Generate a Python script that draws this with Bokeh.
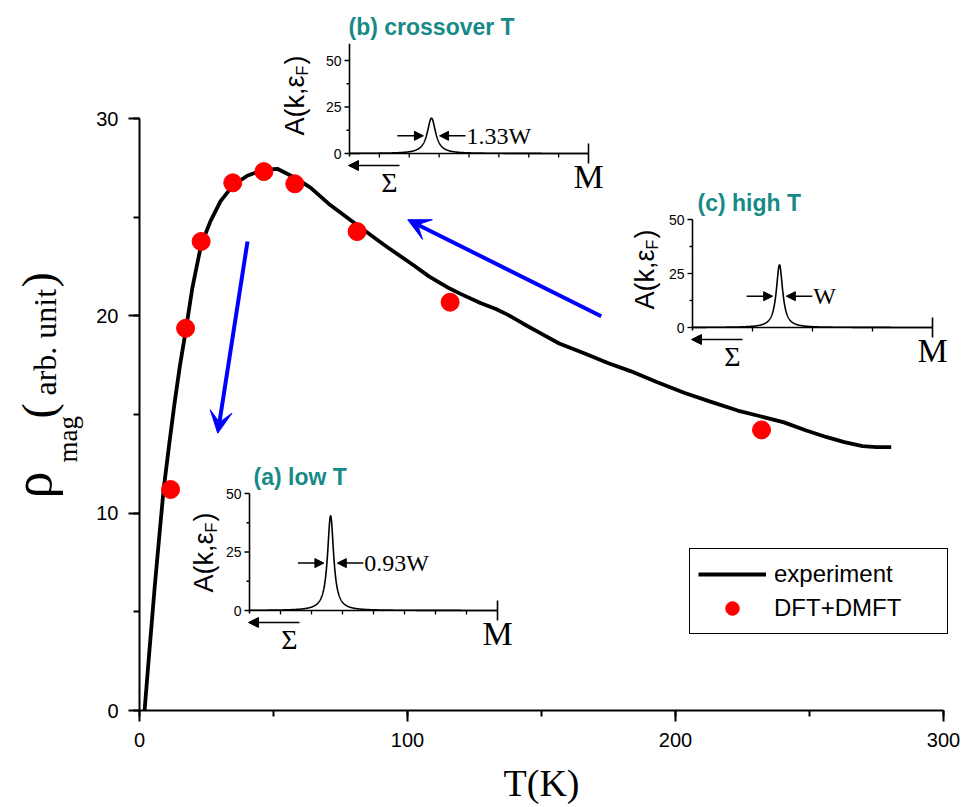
import math
import numpy as np
from bokeh.plotting import figure
from bokeh.models import (Range1d, SingleIntervalTicker, Label, Arrow, NormalHead,
                          VeeHead, Legend, LegendItem)
from bokeh.core.properties import value
from bokeh.embed import file_html
from bokeh.resources import INLINE

# ---------------------------------------------------------------- data
# measured magnetic resistivity
T_exp = [1.9, 3.5, 5.7, 7.5, 9.0, 11.0, 13.0, 15.0, 17.2, 19.7, 23.0, 26.5, 30.2,
         34.8, 40.2, 46.4, 51.4, 58.0, 63.8, 71.3, 81.2, 91.2, 102.4, 108.0, 114.8,
         120.0, 127.2, 133.0, 137.5, 143.2, 149.9, 156.6, 165.9, 175.0, 183.2, 193.0,
         203.2, 213.0, 223.2, 232.0, 240.5, 248.5, 256.5, 263.0, 269.8, 275.0, 280.5]
rho_exp = [0.0, 2.7, 6.3, 9.0, 11.2, 13.4, 15.5, 17.4, 19.2, 21.4, 23.6, 24.8, 25.8,
           26.6, 27.1, 27.4, 27.45, 27.0, 26.5, 25.6, 24.6, 23.6, 22.55, 22.0, 21.45,
           21.1, 20.65, 20.35, 20.05, 19.6, 19.1, 18.6, 18.1, 17.6, 17.2, 16.65,
           16.1, 15.65, 15.2, 14.9, 14.6, 14.2, 13.85, 13.6, 13.4, 13.35, 13.35]

# DFT+DMFT results
T_dmft = [11.6, 17.2, 23.0, 34.8, 46.4, 57.95, 81.2, 115.9, 232.1]
rho_dmft = [11.2, 19.37, 23.77, 26.74, 27.31, 26.69, 24.27, 20.69, 14.22]

# guide arrows (start T, start rho) -> (end T, end rho)
arrow_T_start = [40.3, 172.3]
arrow_rho_start = [23.77, 19.98]
arrow_T_end = [29.2, 100.1]
arrow_rho_end = [14.05, 24.87]

# spectral function A(k, eps_F) along Sigma -> M for the three insets
inset_titles = ["(a) low T", "(b) crossover T", "(c) high T"]
width_labels = ["0.93W", "1.33W", "W"]
width_factors = [0.93, 1.33, 1.0]
W = 0.032                      # reference peak width (fraction of the k path)
peak_k = [0.327, 0.343, 0.3625]
peak_A = [40.5, 19.0, 29.0]
A_ticks = [0, 25, 50]
A_minor = [12.5, 37.5]

# ---------------------------------------------------------------- layout
W_PX, H_PX = 965, 807
AXIS_X_PX, AXIS_Y_PX = 139, 710      # pixel position of T = 0 and rho = 0
PX_PER_K = 2.68
PX_PER_RHO = 19.7333

inset_layout = [
    dict(left=249, right=497, zero=610, px_per_A=2.34, top=50, n_div=8, title_dx=4, ylab_dx=-46),
    dict(left=349, right=588, zero=153, px_per_A=1.86, top=59, n_div=8, title_dx=-1, ylab_dx=-55),
    dict(left=692, right=932, zero=327, px_per_A=2.16, top=50, n_div=4, title_dx=5, ylab_dx=-48),
]
TEAL = "#178a87"
SANS = "Liberation Sans"
SERIF = "Liberation Serif"

# the frame fills the whole canvas; axes sit at T = 0 and rho = 0
p = figure(width=W_PX, height=H_PX,
           x_range=Range1d(-AXIS_X_PX / PX_PER_K, (W_PX - AXIS_X_PX) / PX_PER_K),
           y_range=Range1d(-(H_PX - AXIS_Y_PX) / PX_PER_RHO, AXIS_Y_PX / PX_PER_RHO),
           min_border=0, toolbar_location=None, output_backend="svg")
p.xgrid.visible = False
p.ygrid.visible = False
p.outline_line_color = None
p.background_fill_color = "white"
p.border_fill_color = "white"

p.xaxis.ticker = SingleIntervalTicker(interval=100, num_minor_ticks=2)
p.yaxis.ticker = SingleIntervalTicker(interval=10, num_minor_ticks=2)
p.xaxis.bounds = (0, 300)
p.yaxis.bounds = (0, 30)
p.xaxis.fixed_location = 0
p.yaxis.fixed_location = 0
for ax in (p.xaxis, p.yaxis):
    ax.axis_line_width = 2
    ax.major_tick_line_width = 2
    ax.minor_tick_line_width = 2
    ax.major_tick_in = 0
    ax.major_tick_out = 11
    ax.minor_tick_in = 0
    ax.minor_tick_out = 6
    ax.major_label_text_font = SANS
    ax.major_label_text_font_size = "20px"
    ax.major_label_text_color = "black"
p.xaxis.major_label_standoff = 11
p.yaxis.major_label_standoff = 10


def T_at(px):
    return (px - AXIS_X_PX) / PX_PER_K


def rho_at(py):
    return (AXIS_Y_PX - py) / PX_PER_RHO


# ---------------------------------------------------------------- main curves
r_exp = p.line(T_exp, rho_exp, line_color="black", line_width=3.8)
r_dmft = p.scatter(T_dmft, rho_dmft, size=18, fill_color="red", line_color="red")

for t0, r0, t1, r1 in zip(arrow_T_start, arrow_rho_start, arrow_T_end, arrow_rho_end):
    p.add_layout(Arrow(x_start=t0, y_start=r0, x_end=t1, y_end=r1,
                       line_color="blue", line_width=4,
                       end=VeeHead(size=22, fill_color="blue", line_color="blue")))

# axis titles
p.add_layout(Label(x=T_at(541), y=rho_at(782), text="T(K)", text_align="center",
                   text_baseline="middle", text_font=SERIF, text_font_size="38px",
                   text_color="black"))
ylabel_pieces = [("ρ", "54px", 32, 498), ("mag", "27px", 67, 462), ("(", "46px", 38, 418),
                 ("arb. unit", "32px", 44, 395), (")", "46px", 38, 287)]
for txt, size, cx, by in ylabel_pieces:
    p.add_layout(Label(x=T_at(cx), y=rho_at(by), text=txt, angle=math.pi / 2,
                       text_align="left", text_baseline="middle",
                       text_font=SERIF, text_font_size=size, text_color="black"))

# ---------------------------------------------------------------- insets
k_grid = np.linspace(0, 1, 1601)
for i, g in enumerate(inset_layout):
    xs = g["right"] - g["left"]
    ky = g["px_per_A"]
    xn, yn = f"kx{i}", f"ky{i}"
    p.extra_x_ranges[xn] = Range1d(-g["left"] / xs, 1 + (W_PX - g["right"]) / xs)
    p.extra_y_ranges[yn] = Range1d(-(H_PX - g["zero"]) / ky, g["zero"] / ky)
    kw = dict(x_range_name=xn, y_range_name=yn)

    def du(px):
        return px / xs

    def dA(px):
        return px / ky

    # spectral peak (Lorentzian with the labelled width)
    fw = width_factors[i] * W
    A = peak_A[i] / (1 + ((k_grid - peak_k[i]) / (0.5 * fw)) ** 2)
    p.line(k_grid, A, line_color="black", line_width=1.6, **kw)

    # axes
    p.segment(x0=[0, 0], y0=[0, -dA(3)], x1=[1, 0], y1=[0, g["top"]],
              line_color="black", line_width=1.6, **kw)
    p.segment(x0=[-du(5)] * len(A_ticks), y0=A_ticks, x1=[0] * len(A_ticks), y1=A_ticks,
              line_color="black", line_width=1.3, **kw)
    p.segment(x0=[-du(3)] * len(A_minor), y0=A_minor, x1=[0] * len(A_minor), y1=A_minor,
              line_color="black", line_width=1.3, **kw)
    xt = [j / g["n_div"] for j in range(1, g["n_div"])]
    p.segment(x0=xt, y0=[0] * len(xt), x1=xt, y1=[-dA(4)] * len(xt),
              line_color="black", line_width=1.3, **kw)
    p.segment(x0=[1], y0=[-dA(10)], x1=[1], y1=[dA(10)],
              line_color="black", line_width=1.6, **kw)
    p.text(x=[-du(8)] * len(A_ticks), y=A_ticks, text=[str(t) for t in A_ticks],
           text_align="right", text_baseline="middle", text_font=value(SANS),
           text_font_size="14px", text_color="black", **kw)

    # title
    p.text(x=[du(g["title_dx"])], y=[g["top"] + dA(17)], text=[inset_titles[i]],
           text_align="left", text_baseline="middle", text_font=value(SANS),
           text_font_style="bold", text_font_size="23px", text_color=TEAL, **kw)

    # rotated y label A(k, eps_F)
    base = du(g["ylab_dx"])
    p.text(x=[base], y=[dA(18)], text=["A(k,ε"], angle=math.pi / 2,
           text_align="left", text_baseline="middle", text_font=value(SANS),
           text_font_size="27px", text_color="black", **kw)
    p.text(x=[base + du(8)], y=[dA(18 + 60)], text=["F"], angle=math.pi / 2,
           text_align="left", text_baseline="middle", text_font=value(SANS),
           text_font_size="16px", text_color="black", **kw)
    p.text(x=[base], y=[dA(18 + 71)], text=[")"], angle=math.pi / 2,
           text_align="left", text_baseline="middle", text_font=value(SANS),
           text_font_size="27px", text_color="black", **kw)

    # width markers at half maximum
    yh = peak_A[i] / 2
    alen = du(26)
    tip_l = peak_k[i] - fw / 2 - du(3)
    tip_r = peak_k[i] + fw / 2 + du(3)
    for tail, tip in ((tip_l - alen, tip_l), (tip_r + alen, tip_r)):
        p.add_layout(Arrow(x_start=tail, y_start=yh, x_end=tip, y_end=yh,
                           line_color="black", line_width=1.5,
                           end=NormalHead(size=9, fill_color="black", line_color="black"),
                           **kw))
    p.text(x=[tip_r + alen + du(1)], y=[yh], text=[width_labels[i]],
           text_align="left", text_baseline="middle", text_font=value(SERIF),
           text_font_size="24px", text_color="black", **kw)

    # k path: Sigma <- ... -> M
    p.add_layout(Arrow(x_start=du(50), y_start=-dA(12), x_end=-du(1), y_end=-dA(12),
                       line_color="black", line_width=1.5,
                       end=NormalHead(size=10, fill_color="black", line_color="black"),
                       **kw))
    p.text(x=[du(40)], y=[-dA(29)], text=["Σ"], text_align="center",
           text_baseline="middle", text_font=value(SERIF), text_font_size="28px",
           text_color="black", **kw)
    p.text(x=[1], y=[-dA(23)], text=["M"], text_align="center",
           text_baseline="middle", text_font=value(SERIF), text_font_size="34px",
           text_color="black", **kw)

# ---------------------------------------------------------------- legend
legend = Legend(items=[LegendItem(label="experiment", renderers=[r_exp]),
                       LegendItem(label="DFT+DMFT", renderers=[r_dmft])],
                location=(689, 173), margin=0, padding=8, spacing=0,
                glyph_width=68, glyph_height=34, label_standoff=8, label_width=165,
                label_text_font=SANS, label_text_font_size="24px", label_text_color="black",
                border_line_color="black", border_line_width=1.5, border_line_alpha=1.0,
                background_fill_color="white", background_fill_alpha=1.0)
p.add_layout(legend)

open("out.html", "w").write(file_html(p, INLINE))
